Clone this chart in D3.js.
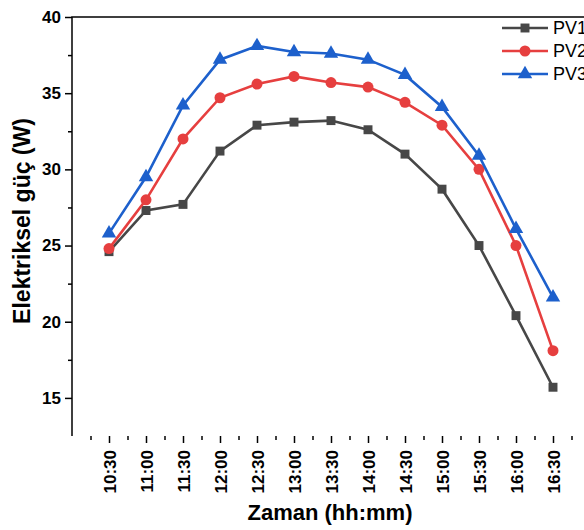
<!DOCTYPE html>
<html>
<head>
<meta charset="utf-8">
<script src="https://cdn.jsdelivr.net/npm/d3@7"></script>
<style>
  body { margin: 0; background: #fff; }
  svg { display: block; font-family: Arial, "Liberation Sans", sans-serif; }
</style>
</head>
<body>
<div class="canvas"></div>
<script>
// data
const times = ['10:30', '11:00', '11:30', '12:00', '12:30', '13:00', '13:30',
               '14:00', '14:30', '15:00', '15:30', '16:00', '16:30']
const pv1 = [24.6, 27.3, 27.7, 31.2, 32.9, 33.1, 33.2, 32.6, 31.0, 28.7, 25.0, 20.4, 15.7]
const pv2 = [24.8, 28.0, 32.0, 34.7, 35.6, 36.1, 35.7, 35.4, 34.4, 32.9, 30.0, 25.0, 18.1]
const pv3 = [25.8, 29.5, 34.2, 37.2, 38.1, 37.7, 37.6, 37.2, 36.2, 34.1, 30.9, 26.1, 21.6]
const yTicks = [15, 20, 25, 30, 35, 40]
const seriesNames = ['PV1', 'PV2', 'PV3']

const width = 584
const height = 530

const svg = d3.select('.canvas')
    .append('svg')
    .attr('width', width)
    .attr('height', height)

// scales (x is category index, one empty step either side)
const x = d3.scaleLinear().domain([-1, 13]).range([72, 590])
const y = d3.scaleLinear().domain([12.5, 40]).range([436, 17])

const series = [
    { name: seriesNames[0], values: pv1, color: '#474747', symbol: d3.symbolSquare, size: 80 },
    { name: seriesNames[1], values: pv2, color: '#e63f3f', symbol: d3.symbolCircle, size: 95 },
    { name: seriesNames[2], values: pv3, color: '#1d60cc', symbol: d3.symbolTriangle, size: 90 }
]

// frame
svg.append('path')
    .attr('d', `M${x(-1)},${y(12.5)}V${y(40)}H${x(13)}V${y(12.5)}`)
    .attr('fill', 'none')
    .attr('stroke', '#000')
    .attr('stroke-width', 1.5)

// y axis
const yAxis = d3.axisLeft(y)
    .tickValues(yTicks)
    .tickSize(7)
    .tickPadding(4)
const yMinor = d3.axisLeft(y)
    .tickValues(yTicks.map(d => d + 2.5).filter(d => d < 40))
    .tickSize(4)
    .tickFormat('')

const yg = svg.append('g').attr('transform', `translate(${x(-1)},0)`).call(yAxis)
svg.append('g').attr('transform', `translate(${x(-1)},0)`).call(yMinor)

// x axis
const xAxis = d3.axisBottom(x)
    .tickValues(d3.range(times.length))
    .tickSize(7)
    .tickFormat(i => times[i])
const xMinor = d3.axisBottom(x)
    .tickValues(d3.range(-0.5, 13, 1))
    .tickSize(4)
    .tickFormat('')

const xg = svg.append('g').attr('transform', `translate(0,${y(12.5)})`).call(xAxis)
svg.append('g').attr('transform', `translate(0,${y(12.5)})`).call(xMinor)

xg.selectAll('text')
    .attr('transform', 'rotate(-90)')
    .attr('text-anchor', 'end')
    .attr('x', -14)
    .attr('y', 0)
    .attr('dy', '0.36em')

svg.selectAll('.domain').remove()
svg.selectAll('.tick line').attr('stroke', '#000').attr('stroke-width', 1.5)
svg.selectAll('.tick text')
    .attr('fill', '#000')
    .style('font-size', '17px')
    .style('font-weight', 'bold')

// axis titles
svg.append('text')
    .attr('transform', 'translate(30,221) rotate(-90)')
    .attr('text-anchor', 'middle')
    .style('font-size', '23px')
    .style('font-weight', 'bold')
    .text('Elektriksel güç (W)')

svg.append('text')
    .attr('x', 330)
    .attr('y', 520)
    .attr('text-anchor', 'middle')
    .style('font-size', '22px')
    .style('font-weight', 'bold')
    .text('Zaman (hh:mm)')

// lines + markers
const line = d3.line()
    .x((d, i) => x(i))
    .y(d => y(d))

series.forEach(s => {
    svg.append('path')
        .datum(s.values)
        .attr('fill', 'none')
        .attr('stroke', s.color)
        .attr('stroke-width', 2.6)
        .attr('d', line)

    svg.selectAll(null)
        .data(s.values)
        .enter()
        .append('path')
            .attr('d', d3.symbol().type(s.symbol).size(s.size))
            .attr('transform', (d, i) => `translate(${x(i)},${y(d)})`)
            .attr('fill', s.color)
})

// legend
const legend = svg.append('g').attr('transform', 'translate(502,28)')
series.forEach((s, i) => {
    const row = legend.append('g').attr('transform', `translate(0,${i * 23})`)
    row.append('line')
        .attr('x1', 0).attr('x2', 46)
        .attr('stroke', s.color)
        .attr('stroke-width', 2.6)
    row.append('path')
        .attr('d', d3.symbol().type(s.symbol).size(s.size))
        .attr('transform', 'translate(23,0)')
        .attr('fill', s.color)
    row.append('text')
        .attr('x', 51)
        .attr('dy', '0.35em')
        .style('font-size', '18px')
        .text(s.name)
})
</script>
</body>
</html>
